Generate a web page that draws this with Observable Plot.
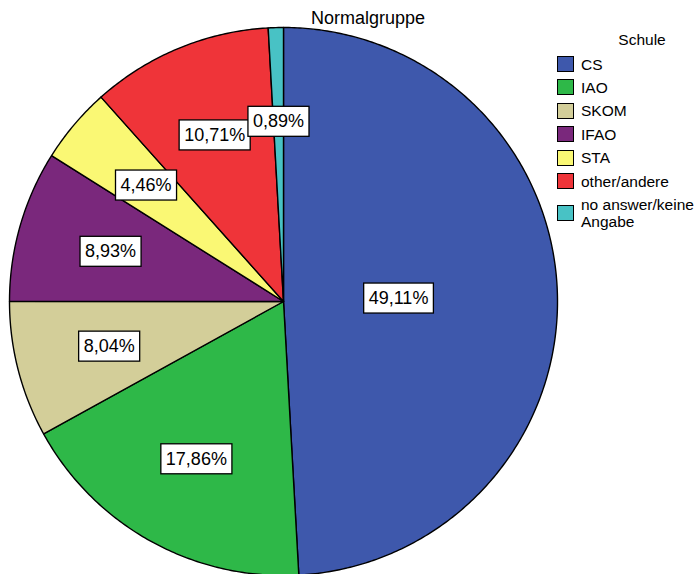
<!DOCTYPE html>
<html>
<head>
<meta charset="utf-8">
<script src="https://cdn.jsdelivr.net/npm/d3@7"></script>
<script src="https://cdn.jsdelivr.net/npm/@observablehq/plot@0.6"></script>
<style>
  html, body { margin: 0; padding: 0; background: #fff; }
  #wrap { position: relative; width: 696px; height: 574px; overflow: hidden; font-family: "Liberation Sans", Arial, sans-serif; }
  #title { position: absolute; left: 368px; top: 18px; transform: translate(-50%, -50%); font-size: 18px; color: #000; white-space: nowrap; }
  #legend { position: absolute; left: 557px; top: 0; width: 139px; font-size: 15.5px; color: #000; }
  #legend .ltitle { position: absolute; left: 85px; top: 40px; transform: translate(-50%, -50%); white-space: nowrap; }
  #legend .item { position: absolute; left: 0; display: flex; align-items: center; }
  #legend .sw { width: 15px; height: 14px; border: 1px solid #000; flex: none; margin-right: 7px; }
  #legend .txt { line-height: 17px; white-space: nowrap; }
  svg text { font-family: "Liberation Sans", Arial, sans-serif; }
</style>
</head>
<body>
<div id="wrap">
  <div id="chart"></div>
  <div id="title"></div>
  <div id="legend"></div>
</div>
<script>
const chartTitle = "Normalgruppe";
const legendTitle = "Schule";
const categories = ["CS", "IAO", "SKOM", "IFAO", "STA", "other/andere", "no answer/keine Angabe"];
const legendLabels = [["CS"], ["IAO"], ["SKOM"], ["IFAO"], ["STA"], ["other/andere"], ["no answer/keine", "Angabe"]];
const percents = [49.11, 17.86, 8.04, 8.93, 4.46, 10.71, 0.89];
const colors = ["#3E58AC", "#2EB848", "#D3CE99", "#7A287C", "#FAF874", "#EF3439", "#48C2C5"];

const fmt = v => v.toFixed(2).replace(".", ",") + "%";

// slice geometry from the values (angles clockwise from 12 o'clock)
const arcs = d3.pie().sort(null).value(d => d)(percents);
const slicePts = [];
arcs.forEach((a, i) => {
  const cat = categories[i];
  slicePts.push({cat, x: 0, y: 0});
  const n = Math.max(2, Math.ceil((a.endAngle - a.startAngle) / 0.01));
  for (let k = 0; k <= n; k++) {
    const t = a.startAngle + (a.endAngle - a.startAngle) * k / n;
    slicePts.push({cat, x: Math.sin(t), y: Math.cos(t)});
  }
});
const labelData = arcs.map((a, i) => {
  const m = (a.startAngle + a.endAngle) / 2;
  const r = percents[i] > 40 ? 0.42 : 0.657;
  return {cat: categories[i], text: fmt(percents[i]), x: r * Math.sin(m), y: r * Math.cos(m)};
});

const plot = Plot.plot({
  width: 696,
  height: 574,
  margin: 0,
  x: {domain: [-1, 1], range: [9, 557], axis: null},
  y: {domain: [-1, 1], range: [575, 27], axis: null},
  color: {type: "ordinal", domain: categories, range: colors},
  marks: [
    Plot.line(slicePts, {x: "x", y: "y", z: "cat", fill: "cat", stroke: "black", strokeWidth: 1.4, strokeLinejoin: "round", curve: "linear-closed"}),
    Plot.text(labelData, {x: "x", y: "y", text: "text", fontSize: 18, fill: "black", className: "pielabel"})
  ]
});
plot.style.background = "transparent";
document.getElementById("chart").appendChild(plot);

// white boxes behind the labels
const texts = plot.querySelectorAll(".pielabel text");
texts.forEach(t => {
  const b = t.getBBox();
  const padX = 5, h = 30;
  const cy = b.y + b.height / 2;
  const rect = document.createElementNS("http://www.w3.org/2000/svg", "rect");
  rect.setAttribute("x", b.x - padX);
  rect.setAttribute("y", cy - h / 2);
  rect.setAttribute("width", b.width + 2 * padX);
  rect.setAttribute("height", h);
  rect.setAttribute("fill", "white");
  rect.setAttribute("stroke", "black");
  rect.setAttribute("stroke-width", 1.3);
  const tr = t.getAttribute("transform");
  if (tr) rect.setAttribute("transform", tr);
  t.parentNode.insertBefore(rect, t);
});

document.getElementById("title").textContent = chartTitle;
const legend = document.getElementById("legend");
const lt = document.createElement("div");
lt.className = "ltitle";
lt.textContent = legendTitle;
legend.appendChild(lt);
legendLabels.forEach((lines, i) => {
  const item = document.createElement("div");
  item.className = "item";
  const firstCenter = 64 + i * 23.4;
  item.style.top = (firstCenter - 8.5) + "px";
  const sw = document.createElement("div");
  sw.className = "sw";
  sw.style.background = colors[i];
  const tx = document.createElement("div");
  tx.className = "txt";
  tx.innerHTML = lines.join("<br>");
  item.appendChild(sw);
  item.appendChild(tx);
  legend.appendChild(item);
});
</script>
</body>
</html>
